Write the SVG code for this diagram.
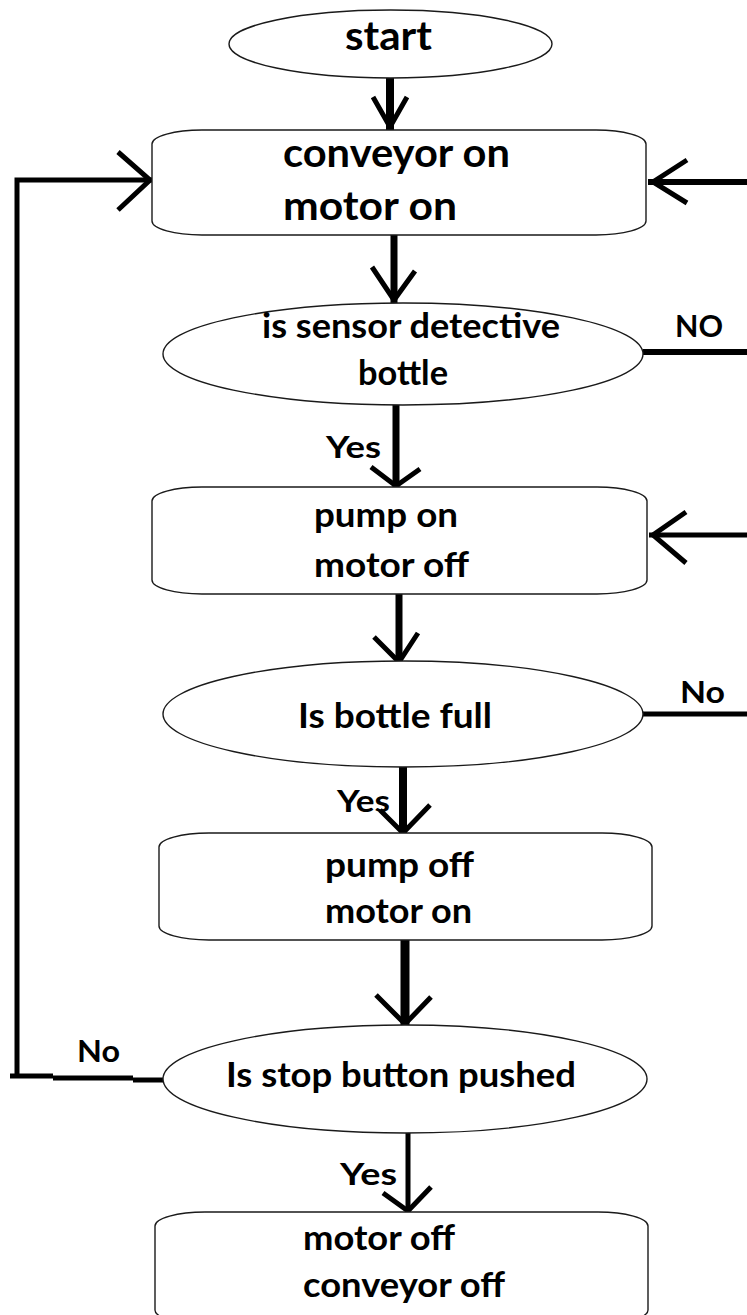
<svg xmlns="http://www.w3.org/2000/svg" width="747" height="1315" viewBox="0 0 747 1315">
  <style>
    .shape { fill: #ffffff; stroke: #1a1a1a; stroke-width: 1.4; }
    .t { font-family: Lato, "Open Sans", "Liberation Sans", sans-serif; font-weight: 700; fill: #000000; }
    .big { font-size: 40px; }
    .body { font-size: 35px; }
    .lbl { font-size: 31px; }
    .wire { fill: none; stroke: #000000; stroke-linecap: butt; stroke-linejoin: miter; }
    .head { fill: none; stroke: #000000; stroke-width: 5; stroke-linecap: butt; stroke-linejoin: miter; }
  </style>
  <rect width="747" height="1315" fill="#ffffff"/>

  <!-- connectors -->
  <g id="connectors">
    <!-- start -> conveyor on -->
    <line class="wire" x1="390" y1="78" x2="390" y2="130" stroke-width="8"/>
    <polyline class="head" points="373,97 390,127 407,97"/>
    <!-- conveyor on -> sensor check -->
    <line class="wire" x1="394" y1="235" x2="394" y2="303" stroke-width="7"/>
    <polyline class="head" points="372,267 394,300 415,271"/>
    <!-- sensor check yes -> pump on -->
    <line class="wire" x1="396" y1="405" x2="396" y2="488" stroke-width="7"/>
    <polyline class="head" points="371,467 396,486 420,469"/>
    <!-- pump on -> bottle full check -->
    <line class="wire" x1="399" y1="594" x2="399" y2="663" stroke-width="7"/>
    <polyline class="head" points="374,637 399,662 418,633"/>
    <!-- bottle full yes -> pump off -->
    <line class="wire" x1="403" y1="767" x2="403" y2="834" stroke-width="8"/>
    <polyline class="head" points="380,810 403,833 430,805"/>
    <!-- pump off -> stop button check -->
    <line class="wire" x1="405" y1="940" x2="405" y2="1026" stroke-width="9"/>
    <polyline class="head" points="376,995 405,1024 431,997"/>
    <!-- stop button yes -> motor off -->
    <line class="wire" x1="408" y1="1132" x2="408" y2="1212" stroke-width="5"/>
    <polyline class="head" points="383,1193 408,1211 431,1187"/>

    <!-- sensor check NO branch -->
    <line class="wire" x1="643" y1="352" x2="747" y2="352" stroke-width="6"/>
    <!-- return into conveyor on (right side) -->
    <line class="wire" x1="747" y1="182" x2="648" y2="182" stroke-width="6"/>
    <polyline class="head" points="687,160 653,182 687,203"/>
    <!-- bottle full No branch -->
    <line class="wire" x1="642" y1="714" x2="747" y2="714" stroke-width="5"/>
    <!-- return into pump on (right side) -->
    <line class="wire" x1="747" y1="535" x2="649" y2="535" stroke-width="5"/>
    <polyline class="head" points="686,512 653,535 686,563"/>

    <!-- stop button No loop back to conveyor on -->
    <line class="wire" x1="173" y1="1080" x2="133" y2="1080" stroke-width="5"/>
    <line class="wire" x1="133" y1="1078" x2="53" y2="1078" stroke-width="5"/>
    <line class="wire" x1="53" y1="1076" x2="10" y2="1076" stroke-width="5"/>
    <polyline class="wire" points="17,1077 17,180 154,180" stroke-width="5"/>
    <polyline class="head" points="118,152 150,180 118,210"/>
  </g>

  <g id="start">
    <ellipse class="shape" cx="390.5" cy="44" rx="161.5" ry="34"/>
    <text class="t big" x="345" y="50" textLength="87" lengthAdjust="spacingAndGlyphs">start</text>
  </g>

  <g id="conveyor-on">
    <rect class="shape" x="152" y="130" width="494" height="105" rx="50" ry="14"/>
    <text class="t big" x="283" y="167" textLength="227" lengthAdjust="spacingAndGlyphs">conveyor on</text>
    <text class="t big" x="283" y="220" textLength="174" lengthAdjust="spacingAndGlyphs">motor on</text>
  </g>

  <g id="sensor-check">
    <ellipse class="shape" cx="403" cy="354" rx="240" ry="51"/>
    <text class="t body" x="262" y="338" textLength="298" lengthAdjust="spacingAndGlyphs">is sensor detective</text>
    <text class="t body" x="358" y="385" textLength="90" lengthAdjust="spacingAndGlyphs">bottle</text>
  </g>

  <g id="pump-on">
    <rect class="shape" x="152" y="487" width="495" height="107" rx="50" ry="14"/>
    <text class="t body" x="314" y="527" textLength="144" lengthAdjust="spacingAndGlyphs">pump on</text>
    <text class="t body" x="314" y="577" textLength="155" lengthAdjust="spacingAndGlyphs">motor off</text>
  </g>

  <g id="bottle-full">
    <ellipse class="shape" cx="403" cy="714" rx="240" ry="53"/>
    <text class="t body" x="298" y="728" textLength="194" lengthAdjust="spacingAndGlyphs">Is bottle full</text>
  </g>

  <g id="pump-off">
    <rect class="shape" x="159" y="833" width="493" height="107" rx="50" ry="14"/>
    <text class="t body" x="325" y="877" textLength="149" lengthAdjust="spacingAndGlyphs">pump off</text>
    <text class="t body" x="325" y="923" textLength="147" lengthAdjust="spacingAndGlyphs">motor on</text>
  </g>

  <g id="stop-check">
    <ellipse class="shape" cx="405" cy="1079" rx="242" ry="54"/>
    <text class="t body" x="226" y="1087" textLength="350" lengthAdjust="spacingAndGlyphs">Is stop button pushed</text>
  </g>

  <g id="all-off">
    <rect class="shape" x="155" y="1212" width="493" height="112" rx="50" ry="14"/>
    <text class="t body" x="303" y="1250" textLength="152" lengthAdjust="spacingAndGlyphs">motor off</text>
    <text class="t body" x="303" y="1297" textLength="202" lengthAdjust="spacingAndGlyphs">conveyor off</text>
  </g>

  <g id="labels">
    <text class="t lbl" x="675" y="337" textLength="48" lengthAdjust="spacingAndGlyphs">NO</text>
    <text class="t lbl" x="326" y="458" textLength="55" lengthAdjust="spacingAndGlyphs">Yes</text>
    <text class="t lbl" x="680" y="703" textLength="45" lengthAdjust="spacingAndGlyphs">No</text>
    <text class="t lbl" x="337" y="812" textLength="53" lengthAdjust="spacingAndGlyphs">Yes</text>
    <text class="t lbl" x="77" y="1062" textLength="43" lengthAdjust="spacingAndGlyphs">No</text>
    <text class="t lbl" x="340" y="1185" textLength="57" lengthAdjust="spacingAndGlyphs">Yes</text>
  </g>
</svg>
